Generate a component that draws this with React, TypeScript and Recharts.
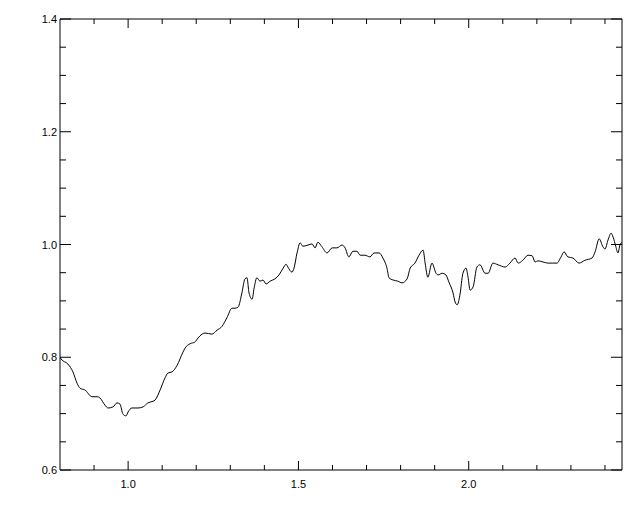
import React from 'react';
import { LineChart, Line, XAxis, YAxis } from 'recharts';

// wavelength-like x positions
const xValues = [
  0.800, 0.803, 0.823, 0.838, 0.850, 0.859, 0.873, 0.894, 0.909, 0.917,
  0.932, 0.941, 0.956, 0.967, 0.976, 0.985, 0.994, 1.000, 1.011, 1.029,
  1.044, 1.058, 1.073, 1.079, 1.094, 1.108, 1.117, 1.129, 1.144, 1.161,
  1.167, 1.182, 1.196, 1.205, 1.217, 1.226, 1.246, 1.261, 1.276, 1.290,
  1.305, 1.314, 1.323, 1.334, 1.343, 1.349, 1.355, 1.364, 1.370, 1.378,
  1.387, 1.396, 1.405, 1.417, 1.431, 1.443, 1.455, 1.464, 1.469, 1.481,
  1.487, 1.496, 1.505, 1.513, 1.528, 1.540, 1.549, 1.557, 1.569, 1.584,
  1.599, 1.613, 1.628, 1.637, 1.648, 1.660, 1.672, 1.681, 1.695, 1.710,
  1.722, 1.737, 1.748, 1.760, 1.766, 1.778, 1.792, 1.804, 1.819, 1.828,
  1.842, 1.854, 1.866, 1.872, 1.880, 1.892, 1.904, 1.910, 1.922, 1.933,
  1.942, 1.954, 1.960, 1.966, 1.974, 1.983, 1.992, 1.998, 2.004, 2.013,
  2.024, 2.033, 2.048, 2.057, 2.071, 2.086, 2.107, 2.121, 2.136, 2.145,
  2.159, 2.174, 2.186, 2.195, 2.203, 2.218, 2.233, 2.245, 2.259, 2.271,
  2.280, 2.291, 2.306, 2.324, 2.341, 2.362, 2.371, 2.383, 2.394, 2.400,
  2.409, 2.418, 2.424, 2.432, 2.438, 2.444, 2.450
];

const yValues = [
  0.800, 0.797, 0.788, 0.774, 0.754, 0.745, 0.742, 0.730, 0.730, 0.728,
  0.715, 0.710, 0.712, 0.719, 0.717, 0.699, 0.696, 0.703, 0.710, 0.710,
  0.712, 0.719, 0.722, 0.724, 0.742, 0.763, 0.772, 0.774, 0.786, 0.809,
  0.816, 0.824, 0.827, 0.834, 0.841, 0.843, 0.841, 0.848, 0.855, 0.870,
  0.887, 0.887, 0.889, 0.914, 0.939, 0.941, 0.914, 0.903, 0.923, 0.941,
  0.935, 0.937, 0.930, 0.935, 0.939, 0.946, 0.958, 0.965, 0.960, 0.951,
  0.958, 0.985, 1.003, 0.997, 0.999, 1.001, 0.994, 1.004, 0.996, 0.985,
  0.994, 0.994, 0.999, 0.994, 0.978, 0.988, 0.988, 0.981, 0.981, 0.978,
  0.985, 0.985, 0.976, 0.958, 0.941, 0.937, 0.935, 0.932, 0.939, 0.958,
  0.967, 0.981, 0.990, 0.967, 0.942, 0.967, 0.949, 0.946, 0.949, 0.946,
  0.933, 0.914, 0.898, 0.893, 0.910, 0.949, 0.958, 0.942, 0.919, 0.925,
  0.960, 0.964, 0.949, 0.949, 0.967, 0.964, 0.960, 0.967, 0.976, 0.967,
  0.972, 0.981, 0.980, 0.969, 0.971, 0.969, 0.967, 0.967, 0.967, 0.978,
  0.987, 0.978, 0.976, 0.967, 0.972, 0.976, 0.987, 1.010, 0.996, 0.992,
  1.008, 1.020, 1.013, 0.996, 0.985, 0.999, 1.004
];

const xTicks = [0.9, 1.0, 1.1, 1.2, 1.3, 1.4, 1.5, 1.6, 1.7, 1.8, 1.9, 2.0, 2.1, 2.2, 2.3, 2.4];
const xMajor = [1.0, 1.5, 2.0];
const yTicks = [0.6, 0.65, 0.7, 0.75, 0.8, 0.85, 0.9, 0.95, 1.0, 1.05, 1.1, 1.15, 1.2, 1.25, 1.3, 1.35, 1.4];
const yMajor = [0.6, 0.8, 1.0, 1.2, 1.4];

const data = xValues.map((x, i) => ({ x, y: yValues[i] }));

const FONT = "'Liberation Sans', Arial, Helvetica, sans-serif";

const isIn = (list: number[], v: number) => list.some((m) => Math.abs(m - v) < 1e-6);

// ticks are drawn by hand so they point inward, IDL style
const BottomTick = (props: any) => {
  const { x, y, payload } = props;
  const major = isIn(xMajor, payload.value);
  return (
    <g>
      <line x1={x} x2={x} y1={y} y2={y - (major ? 9 : 5)} stroke="#000" />
      {major && (
        <text x={x} y={y + 18} textAnchor="middle" fontSize={11} fontFamily={FONT} fill="#000">
          {payload.value.toFixed(1)}
        </text>
      )}
    </g>
  );
};

const TopTick = (props: any) => {
  const { x, y, payload } = props;
  const major = isIn(xMajor, payload.value);
  return <line x1={x} x2={x} y1={y} y2={y + (major ? 9 : 5)} stroke="#000" />;
};

const LeftTick = (props: any) => {
  const { x, y, payload } = props;
  const major = isIn(yMajor, payload.value);
  return (
    <g>
      <line x1={x} x2={x + (major ? 11 : 6)} y1={y} y2={y} stroke="#000" />
      {major && (
        <text x={x - 3} y={y + 4} textAnchor="end" fontSize={11} fontFamily={FONT} fill="#000">
          {payload.value.toFixed(1)}
        </text>
      )}
    </g>
  );
};

const RightTick = (props: any) => {
  const { x, y, payload } = props;
  const major = isIn(yMajor, payload.value);
  return <line x1={x} x2={x - (major ? 11 : 6)} y1={y} y2={y} stroke="#000" />;
};

const App: React.FC = () => {
  return (
    <div style={{ position: 'absolute', left: 0, top: 0, width: 640, height: 512, background: '#fff' }}>
      <LineChart width={640} height={512} data={data} margin={{ top: 18, right: 17, left: 0, bottom: 0 }}>
        <XAxis
          xAxisId="bottom"
          dataKey="x"
          type="number"
          domain={[0.8, 2.45]}
          ticks={xTicks}
          interval={0}
          allowDataOverflow
          height={42}
          tickSize={0}
          tickMargin={0}
          tickLine={false}
          axisLine={{ stroke: '#000' }}
          tick={<BottomTick />}
        />
        <XAxis
          xAxisId="top"
          orientation="top"
          dataKey="x"
          type="number"
          domain={[0.8, 2.45]}
          ticks={xTicks}
          interval={0}
          allowDataOverflow
          height={1}
          tickSize={0}
          tickMargin={0}
          tickLine={false}
          axisLine={{ stroke: '#000' }}
          tick={<TopTick />}
        />
        <YAxis
          yAxisId="left"
          type="number"
          domain={[0.6, 1.4]}
          ticks={yTicks}
          interval={0}
          allowDataOverflow
          width={60}
          tickSize={0}
          tickMargin={0}
          tickLine={false}
          axisLine={{ stroke: '#000' }}
          tick={<LeftTick />}
        />
        <YAxis
          yAxisId="right"
          orientation="right"
          type="number"
          domain={[0.6, 1.4]}
          ticks={yTicks}
          interval={0}
          allowDataOverflow
          width={1}
          tickSize={0}
          tickMargin={0}
          tickLine={false}
          axisLine={{ stroke: '#000' }}
          tick={<RightTick />}
        />
        <Line
          xAxisId="bottom"
          yAxisId="left"
          type="monotone"
          dataKey="y"
          stroke="#000"
          strokeWidth={1}
          dot={false}
          activeDot={false}
          isAnimationActive={false}
        />
      </LineChart>
    </div>
  );
};

export default App;
